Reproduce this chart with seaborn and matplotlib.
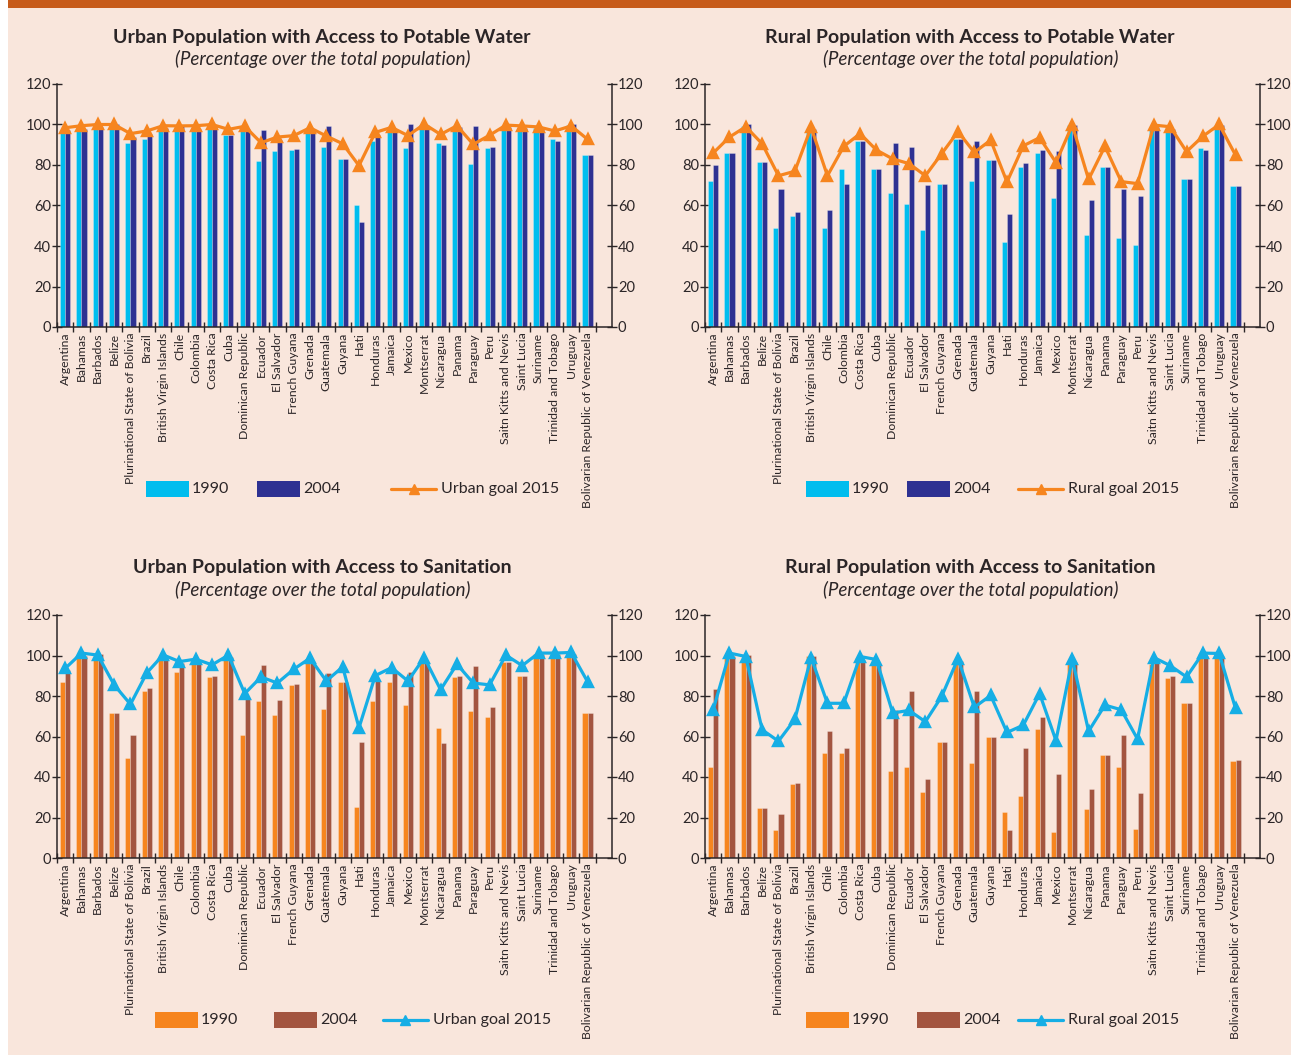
import matplotlib
matplotlib.use("Agg")
import matplotlib.pyplot as plt
from matplotlib.patches import Rectangle
from matplotlib.lines import Line2D
import seaborn as sns
import pandas as pd

# ---------------------------------------------------------------- data
countries = [
    "Argentina", "Bahamas", "Barbados", "Belize", "Plurinational State of Bolivia",
    "Brazil", "British Virgin Islands", "Chile", "Colombia", "Costa Rica", "Cuba",
    "Dominican Republic", "Ecuador", "El Salvador", "French Guyana", "Grenada",
    "Guatemala", "Guyana", "Hati", "Honduras", "Jamaica", "Mexico", "Montserrat",
    "Nicaragua", "Panama", "Paraguay", "Peru", "Saitn Kitts and Nevis",
    "Saint Lucia", "Suriname", "Trinidad and Tobago", "Uruguay",
    "Bolivarian Republic of Venezuela",
]

urban_water_1990 = [96.8, 98.0, 98.9, 99.4, 90.9, 92.8, 97.8, 98.1, 97.8, 99.3, 94.7,
                    98.1, 82.0, 86.7, 87.6, 96.8, 88.7, 82.8, 60.1, 91.9, 97.3, 88.4,
                    99.7, 90.9, 98.9, 80.7, 88.6, 98.9, 98.1, 98.1, 92.8, 99.7, 84.9]
urban_water_2004 = [97.3, 97.8, 98.6, 100.0, 93.8, 95.3, 98.4, 99.7, 97.8, 99.7, 94.8,
                    97.8, 97.3, 92.5, 87.9, 96.8, 99.1, 83.1, 51.9, 94.8, 97.3, 100.0,
                    99.7, 89.7, 98.9, 99.1, 88.9, 98.9, 98.1, 98.1, 91.9, 100.0, 84.9]
urban_water_goal = [98.4, 99.4, 100.0, 100.0, 95.5, 96.8, 99.4, 99.3, 99.4, 100.0, 97.6,
                    99.1, 91.0, 93.8, 94.5, 98.4, 94.3, 90.5, 79.7, 96.1, 98.6, 94.5,
                    100.2, 95.1, 99.4, 90.2, 94.7, 99.7, 99.3, 98.8, 96.8, 99.3, 92.7]

rural_water_1990 = [71.9, 85.9, 99.4, 81.6, 48.9, 54.8, 97.8, 48.9, 77.9, 91.9, 77.9,
                    66.2, 60.7, 48.1, 70.8, 92.8, 71.9, 82.6, 42.0, 78.8, 85.9, 63.7,
                    99.7, 45.6, 78.8, 44.0, 40.3, 98.9, 98.1, 72.9, 88.6, 99.7, 69.8]
rural_water_2004 = [80.0, 85.9, 100.0, 81.6, 68.0, 56.8, 97.8, 57.8, 70.8, 91.9, 77.9,
                    91.0, 88.9, 70.0, 70.8, 92.8, 91.9, 82.6, 56.0, 80.8, 87.6, 86.7,
                    99.7, 62.7, 78.8, 68.0, 64.7, 98.9, 97.8, 72.9, 87.6, 99.7, 69.8]
rural_water_goal = [85.9, 93.8, 98.9, 90.5, 74.7, 76.9, 98.6, 74.7, 89.2, 95.5, 87.4,
                    83.0, 80.7, 74.7, 85.6, 96.5, 86.2, 92.3, 71.6, 89.5, 93.5, 81.2,
                    99.7, 72.9, 89.2, 71.8, 70.8, 99.7, 98.9, 86.6, 94.2, 100.0, 84.9]

urban_san_1990 = [86.9, 99.8, 99.0, 71.6, 49.6, 82.5, 99.0, 91.7, 95.7, 89.4, 99.0,
                  60.5, 77.7, 70.6, 85.6, 96.7, 73.7, 86.9, 25.3, 77.7, 86.9, 75.5,
                  96.7, 64.3, 89.4, 72.7, 69.8, 96.7, 89.8, 100.5, 100.5, 100.5, 71.6]
urban_san_2004 = [92.7, 99.8, 100.5, 71.6, 60.5, 83.8, 99.0, 96.4, 96.4, 89.8, 99.5,
                  79.2, 95.2, 77.9, 85.8, 96.7, 91.2, 86.9, 57.5, 87.8, 91.7, 91.7,
                  96.7, 56.7, 89.8, 95.0, 74.5, 96.7, 89.8, 100.5, 100.5, 100.5, 71.6]
urban_san_goal = [93.6, 101.2, 100.2, 85.5, 75.9, 91.4, 100.3, 97.0, 98.2, 95.4, 100.2,
                  81.2, 89.4, 86.4, 93.2, 98.7, 87.4, 94.4, 64.3, 90.1, 94.0, 87.4,
                  99.0, 83.1, 95.7, 86.4, 85.5, 100.2, 95.0, 101.2, 101.2, 101.5, 87.1]

rural_san_1990 = [44.8, 100.0, 98.2, 24.6, 13.6, 36.7, 100.0, 52.0, 52.0, 99.0, 95.2,
                  43.1, 45.1, 32.7, 57.4, 97.4, 47.1, 60.0, 22.8, 30.7, 63.8, 12.7,
                  95.7, 24.0, 51.1, 44.8, 14.2, 95.7, 89.1, 76.5, 100.5, 100.3, 48.1]
rural_san_2004 = [83.5, 100.0, 100.3, 24.6, 21.8, 37.0, 100.0, 62.6, 54.4, 97.7, 95.2,
                  73.2, 82.6, 39.2, 57.4, 97.4, 82.6, 60.0, 13.7, 54.4, 69.4, 41.5,
                  96.7, 34.2, 51.1, 60.8, 32.2, 96.7, 89.8, 76.5, 99.8, 99.8, 48.4]
rural_san_goal = [73.2, 101.2, 99.5, 63.3, 57.7, 68.4, 99.0, 76.4, 76.4, 99.5, 98.0,
                  71.6, 72.9, 67.3, 79.8, 98.5, 74.4, 80.3, 62.0, 65.6, 81.2, 58.0,
                  98.2, 62.6, 75.5, 73.2, 58.7, 99.0, 95.0, 89.4, 101.2, 101.0, 73.9]

years = ["1990", "2004"]
y_ticks = [0, 20, 40, 60, 80, 100, 120]

# ---------------------------------------------------------------- style
W, H = 1291, 1055
BG = "#F9E6DC"
INK = "#2B2527"
CYAN = "#00BDEE"
NAVY = "#2E3192"
ORANGE = "#F6851F"
BROWN = "#A35540"
SKY = "#16AEE5"

sns.set_theme(style="white")
plt.rcParams["font.family"] = ["Lato", "DejaVu Sans"]
plt.rcParams["text.color"] = INK
plt.rcParams["axes.labelcolor"] = INK
plt.rcParams["xtick.color"] = INK
plt.rcParams["ytick.color"] = INK

fig = plt.figure(figsize=(W / 100, H / 100), dpi=100, facecolor="white")


def fx(x):
    return x / W


def fy(y):
    return 1 - y / H


# peach page with the orange band along the top
fig.add_artist(Rectangle((fx(8), 0), 1 - fx(8), fy(8), transform=fig.transFigure,
                         facecolor=BG, edgecolor="none", zorder=-10))
fig.add_artist(Rectangle((fx(8), fy(8)), 1 - fx(8), 8 / H, transform=fig.transFigure,
                         facecolor="#C75B1A", edgecolor="none", zorder=-10))


def panel(left_px, top_px, title, v1990, v2004, goal, c1990, c2004, cgoal,
          goal_label, legend_px):
    right_px = left_px + 555
    bottom_px = top_px + 243
    ax = fig.add_axes([fx(left_px), fy(bottom_px), (right_px - left_px) / W,
                       (bottom_px - top_px) / H])
    ax.set_facecolor("none")

    long = pd.DataFrame({
        "Country": countries * 2,
        "Year": [years[0]] * len(countries) + [years[1]] * len(countries),
        "Value": list(v1990) + list(v2004),
    })
    sns.barplot(data=long, x="Country", y="Value", hue="Year", order=countries,
                hue_order=years, palette={years[0]: c1990, years[1]: c2004},
                width=0.62, saturation=1, legend=False, ax=ax,
                edgecolor=(1, 1, 1, 0.35), linewidth=0.5)

    gdf = pd.DataFrame({"Country": countries, "Goal": goal})
    sns.pointplot(data=gdf, x="Country", y="Goal", order=countries, color=cgoal,
                  marker="^", markersize=6.5, linewidth=2.3, errorbar=None, ax=ax)

    ax.set_xlim(-0.5, len(countries) + 0.5)
    ax.set_ylim(0, 120)
    ax.set_xlabel("")
    ax.set_ylabel("")

    ax.spines["top"].set_visible(False)
    for side in ["left", "right", "bottom"]:
        ax.spines[side].set_color(INK)
        ax.spines[side].set_linewidth(1.1)

    ax.set_yticks(y_ticks)
    ax.set_yticklabels([str(t) for t in y_ticks])
    ax.tick_params(axis="y", which="major", direction="inout", length=7, width=1.0,
                   left=True, right=True, labelleft=True, labelright=True,
                   labelsize=10.5, pad=0.8)

    # boundary ticks between countries, names centred under each pair
    ax.set_xticks([i - 0.5 for i in range(len(countries) + 1)])
    ax.set_xticklabels([])
    ax.set_xticks(list(range(len(countries))), minor=True)
    ax.set_xticklabels(countries, minor=True, rotation=90, fontsize=8.8,
                       va="top", ha="center")
    ax.tick_params(axis="x", which="major", direction="inout", length=7, width=1.0,
                   bottom=True)
    ax.tick_params(axis="x", which="minor", length=0, pad=4)
    ax.grid(False)

    # headings
    cx = left_px + 265
    fig.text(fx(cx), fy(top_px - 47), title, ha="center", va="center",
             fontsize=14, fontweight="bold", color=INK)
    fig.text(fx(cx + 1), fy(top_px - 25), "(Percentage over the total population)",
             ha="center", va="center", fontsize=13.5, style="italic", color=INK)

    # legend row
    p1, p2, ln, ly = legend_px
    for (x0, col, lab) in [(p1, c1990, years[0]), (p2, c2004, years[1])]:
        fig.add_artist(Rectangle((fx(x0), fy(ly + 8)), 43 / W, 16 / H,
                                 transform=fig.transFigure, facecolor=col,
                                 edgecolor="none"))
        fig.text(fx(x0 + 46), fy(ly), lab, ha="left", va="center", fontsize=11.5,
                 color=INK)
    fig.add_artist(Line2D([fx(ln), fx(ln + 45)], [fy(ly), fy(ly)],
                          transform=fig.transFigure, color=cgoal, lw=2.3))
    fig.add_artist(Line2D([fx(ln + 22.5)], [fy(ly)], transform=fig.transFigure,
                          color=cgoal, marker="^", markersize=6.5, lw=0))
    fig.text(fx(ln + 50), fy(ly), goal_label, ha="left", va="center",
             fontsize=11.5, color=INK)
    return ax


panel(57, 84, "Urban Population with Access to Potable Water",
      urban_water_1990, urban_water_2004, urban_water_goal, CYAN, NAVY, ORANGE,
      "Urban goal 2015", (146, 257, 391, 489))
panel(705, 84, "Rural Population with Access to Potable Water",
      rural_water_1990, rural_water_2004, rural_water_goal, CYAN, NAVY, ORANGE,
      "Rural goal 2015", (806, 907, 1018, 489))
panel(57, 615, "Urban Population with Access to Sanitation",
      urban_san_1990, urban_san_2004, urban_san_goal, ORANGE, BROWN, SKY,
      "Urban goal 2015", (155, 274, 383, 1020))
panel(705, 615, "Rural Population with Access to Sanitation",
      rural_san_1990, rural_san_2004, rural_san_goal, ORANGE, BROWN, SKY,
      "Rural goal 2015", (806, 917, 1018, 1020))

fig.savefig("out.png", dpi=100, facecolor="white")
